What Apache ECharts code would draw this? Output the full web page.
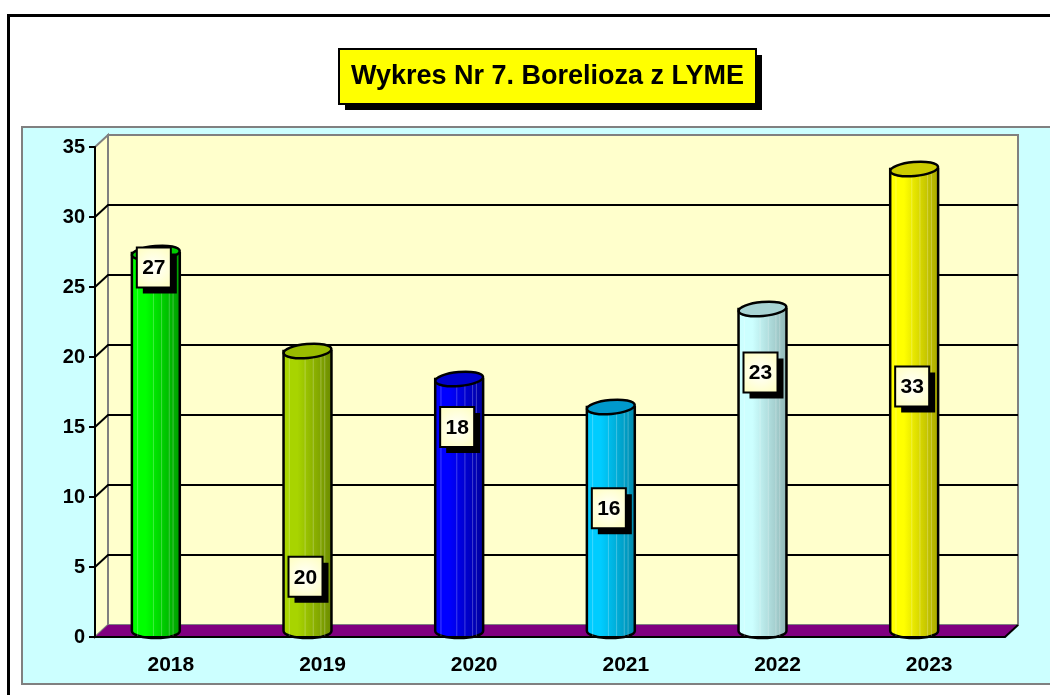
<!DOCTYPE html>
<html>
<head>
<meta charset="utf-8">
<script src="https://cdn.jsdelivr.net/npm/echarts@6/dist/echarts.min.js"></script>
<style>
  html, body { margin: 0; padding: 0; background: #fff; }
  #chart { width: 1050px; height: 695px; }
</style>
</head>
<body>
<div id="chart"></div>
<script>
const years = ['2018', '2019', '2020', '2021', '2022', '2023'];
const cases = [27, 20, 18, 16, 23, 33];
const yTicks = [0, 5, 10, 15, 20, 25, 30, 35];
const titleText = 'Wykres Nr 7. Borelioza z LYME';

// colours of each cylinder: lit side, shaded side, top face
const barLight = ['#00FF00', '#A8D400', '#0000FF', '#00CCFF', '#CCFFFF', '#FFFF00'];
const barDark = ['#009900', '#6B8A00', '#00009A', '#0088AA', '#8FB5B5', '#A6A600'];
const barTop = ['#00CC00', '#99BB00', '#0000CC', '#0099CC', '#A8D4D4', '#CCCC00'];

// labels were dragged by hand in the original, so each box has its own height (axis units)
const labelAt = [26.4, 4.3, 15.0, 9.2, 18.9, 17.9];

const FONT = 'Arial, "Liberation Sans", sans-serif';
const DX = 13, DY = -12;          // depth of the 3d box
const SHIFT_X = -15, SHIFT_Y = -6; // where the cylinders stand inside the box

const chart = echarts.init(document.getElementById('chart'));

// back wall, side wall, grid lines and floor
function wallItem(params, api) {
  const cs = params.coordSys;
  const x0 = cs.x, x1 = cs.x + cs.width;
  const yb = api.coord([0, yTicks[0]])[1];
  const yt = api.coord([0, yTicks[yTicks.length - 1]])[1];
  const children = [];
  children.push({
    type: 'polygon',
    shape: { points: [[x0, yt], [x0 + DX, yt + DY], [x0 + DX, yb + DY], [x0, yb]] },
    style: { fill: '#FFFFCC', stroke: '#808080', lineWidth: 2 }
  });
  children.push({
    type: 'rect',
    shape: { x: x0 + DX, y: yt + DY, width: x1 - x0, height: yb - yt },
    style: { fill: '#FFFFCC', stroke: '#808080', lineWidth: 2 }
  });
  yTicks.slice(1, -1).forEach(v => {
    const y = api.coord([0, v])[1];
    children.push({
      type: 'polyline',
      shape: { points: [[x0, y], [x0 + DX, y + DY], [x1 + DX, y + DY]] },
      style: { stroke: '#000', lineWidth: 2, fill: null }
    });
  });
  children.push({
    type: 'polygon',
    shape: { points: [[x0, yb], [x1, yb], [x1 + DX, yb + DY], [x0 + DX, yb + DY]] },
    style: { fill: '#800080' }
  });
  children.push({
    type: 'polyline',
    shape: { points: [[x1, yb], [x1 + DX, yb + DY]] },
    style: { stroke: '#000', lineWidth: 2, fill: null }
  });
  return { type: 'group', children: children };
}

function cylinderItem(params, api) {
  const i = params.dataIndex;
  const v = api.value(1);
  const base = api.coord([i, 0]);
  const top = api.coord([i, v]);
  const rx = api.size([1, 0])[0] * 0.158;
  const ry = 7;
  const cx = base[0] + SHIFT_X;
  const yb = base[1] + SHIFT_Y;
  const yt = top[1] + SHIFT_Y;
  const body = 'M' + (cx - rx) + ' ' + yt + ' L' + (cx - rx) + ' ' + yb +
    ' A' + rx + ' ' + ry + ' 0 0 0 ' + (cx + rx) + ' ' + yb +
    ' L' + (cx + rx) + ' ' + yt + ' Z';
  const side = {
    type: 'linear', x: 0, y: 0, x2: 1, y2: 0,
    colorStops: [
      { offset: 0, color: barLight[i] },
      { offset: 0.3, color: barLight[i] },
      { offset: 1, color: barDark[i] }
    ]
  };
  const children = [
    { type: 'path', shape: { pathData: body }, style: { fill: side, stroke: '#000', lineWidth: 2.5 } }
  ];
  [0.12, 0.45, 0.62, 0.78, 0.86].forEach(f => {
    const x = cx - rx + 2 * rx * f;
    children.push({
      type: 'line',
      shape: { x1: x, y1: yt + 3, x2: x, y2: yb + ry - 2 },
      style: { stroke: 'rgba(255,255,255,0.25)', lineWidth: 1 }
    });
  });
  children.push({
    type: 'ellipse',
    shape: { cx: cx, cy: yt, rx: rx, ry: ry },
    rotation: 0.09, originX: cx, originY: yt,
    style: { fill: barTop[i], stroke: '#000', lineWidth: 2.5 }
  });
  // value label box with hard shadow
  const lx = cx - 2;
  const ly = api.coord([i, labelAt[i]])[1];
  const w = 34, h = 40;
  children.push({
    type: 'rect', shape: { x: lx - w / 2 + 6, y: ly - h / 2 + 6, width: w, height: h },
    style: { fill: '#000' }
  });
  children.push({
    type: 'rect', shape: { x: lx - w / 2, y: ly - h / 2, width: w, height: h },
    style: {
      fill: { type: 'radial', x: 0.5, y: 0.5, r: 0.7,
        colorStops: [{ offset: 0, color: '#FFFFFF' }, { offset: 1, color: '#FFFFC0' }] },
      stroke: '#000', lineWidth: 2
    }
  });
  children.push({
    type: 'text',
    style: {
      text: String(v), x: lx, y: ly + 1, align: 'center', verticalAlign: 'middle',
      fill: '#000', fontSize: 21, fontWeight: 'bold', fontFamily: FONT
    }
  });
  return { type: 'group', children: children };
}

chart.setOption({
  animation: false,
  backgroundColor: '#fff',
  graphic: [
    { type: 'rect', z: -10, shape: { x: 8.5, y: 15.5, width: 1100, height: 700 },
      style: { fill: '#fff', stroke: '#000', lineWidth: 3 } },
    { type: 'rect', z: -9, shape: { x: 22, y: 127, width: 1100, height: 557 },
      style: { fill: '#CCFFFF', stroke: '#808080', lineWidth: 2 } },
    // title box with hard shadow
    { type: 'rect', z: 20, shape: { x: 345, y: 55, width: 417, height: 55 }, style: { fill: '#000' } },
    { type: 'rect', z: 21, shape: { x: 339, y: 49, width: 417, height: 55 },
      style: { fill: '#FFFF00', stroke: '#000', lineWidth: 2 } },
    { type: 'text', z: 22, x: 547.5, y: 77,
      style: { text: titleText, align: 'center', verticalAlign: 'middle',
        fill: '#000', fontSize: 27, fontWeight: 'bold', fontFamily: FONT } }
  ],
  grid: { left: 95, top: 147, width: 910, height: 490 },
  xAxis: {
    type: 'category',
    data: years,
    z: 10,
    axisLine: { lineStyle: { color: '#000', width: 2 } },
    axisTick: { length: 6, lineStyle: { color: '#000', width: 2 } },
    axisLabel: { color: '#000', fontSize: 21, fontWeight: 'bold', fontFamily: FONT, margin: 18 }
  },
  yAxis: {
    type: 'value',
    min: yTicks[0], max: yTicks[yTicks.length - 1], interval: 5,
    z: 10,
    axisLine: { show: true, lineStyle: { color: '#000', width: 2 } },
    axisTick: { show: true, length: 6, lineStyle: { color: '#000', width: 2 } },
    axisLabel: { color: '#000', fontSize: 20, fontWeight: 'bold', fontFamily: FONT, margin: 10 },
    splitLine: { show: false }
  },
  series: [
    { type: 'custom', z: 1, silent: true, renderItem: wallItem, data: [[0, 0]], encode: { x: 0, y: 1 } },
    { type: 'custom', z: 3, renderItem: cylinderItem, data: cases.map((v, i) => [i, v]), encode: { x: 0, y: 1 } }
  ]
});
</script>
</body>
</html>
